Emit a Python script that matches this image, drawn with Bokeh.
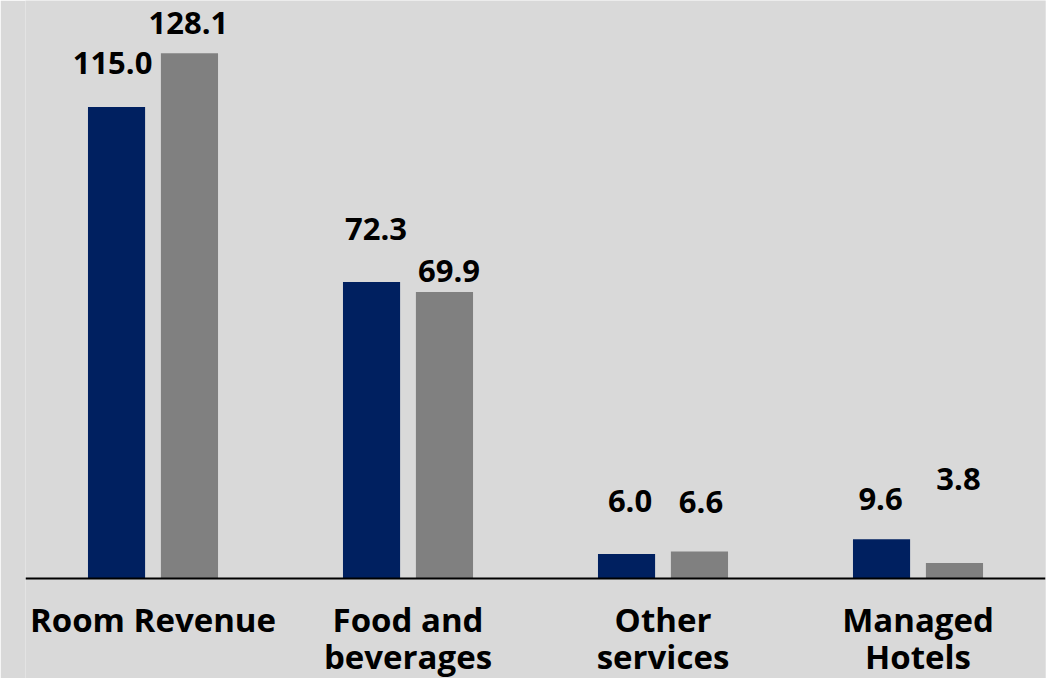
from bokeh.plotting import figure
from bokeh.models import ColumnDataSource, FactorRange, Range1d, Span
from bokeh.transform import dodge
from bokeh.core.properties import value
from bokeh.embed import file_html
from bokeh.resources import INLINE

# ---- data ----
categories = ["Room Revenue", "Food and beverages", "Other services", "Managed Hotels"]
tick_line1 = ["Room Revenue", "Food and", "Other", "Managed"]
tick_line2 = ["", "beverages", "services", "Hotels"]
series_prev = [115.0, 72.3, 6.0, 9.6]
series_curr = [128.1, 69.9, 6.6, 3.8]
label_prev = ["115.0", "72.3", "6.0", "9.6"]
label_curr = ["128.1", "69.9", "6.6", "3.8"]

# ---- label placement (screen px, styling only) ----
prev_dx = [-4, 4.5, 3.5, -1]
prev_gap = [32, 41, 41, 28]
curr_dx = [-1, 4.5, 1.5, 4]
curr_gap = [18, 9, 37, 72]
TEXT_SHIFT = 12       # renderer draws alphabetic baseline ~12px low

NAVY = "#002060"
GRAY = "#808080"
BG = "#d9d9d9"
FONT = "Open Sans"
PX_PER_UNIT = 4.1

src_prev = ColumnDataSource(dict(cat=categories, val=series_prev, lab=label_prev,
                                 dx=prev_dx, dy=[-g - TEXT_SHIFT for g in prev_gap]))
src_curr = ColumnDataSource(dict(cat=categories, val=series_curr, lab=label_curr,
                                 dx=curr_dx, dy=[-g - TEXT_SHIFT for g in curr_gap]))
src_cat = ColumnDataSource(dict(cat=categories, zero=[0] * len(categories),
                                l1=tick_line1, l2=tick_line2))

W, H = 1046, 678
BASE_Y = 578          # pixel row of the baseline
LEFT, RIGHT = 25, 1
p = figure(width=W, height=H,
           x_range=FactorRange(factors=categories, range_padding=0),
           y_range=Range1d(-(H - BASE_Y) / PX_PER_UNIT, BASE_Y / PX_PER_UNIT),
           output_backend="svg", toolbar_location=None,
           x_axis_location=None, y_axis_location=None,
           min_border_left=LEFT, min_border_right=RIGHT,
           min_border_top=0, min_border_bottom=0)

p.background_fill_color = BG
p.border_fill_color = BG
p.outline_line_color = None
p.xgrid.grid_line_color = None
p.ygrid.grid_line_color = None

off = 0.143
w = 0.224
p.vbar(x=dodge("cat", -off, range=p.x_range), top="val", bottom=0, width=w,
       source=src_prev, fill_color=NAVY, line_color=None)
p.vbar(x=dodge("cat", off, range=p.x_range), top="val", bottom=0, width=w,
       source=src_curr, fill_color=GRAY, line_color=None)

# baseline (category axis line)
p.add_layout(Span(location=0, dimension="width", line_color="#000000", line_width=2))

for src, d in ((src_prev, -off), (src_curr, off)):
    p.text(x=dodge("cat", d, range=p.x_range), y="val", text="lab", source=src,
           x_offset="dx", y_offset="dy",
           text_align="center", text_baseline="alphabetic",
           text_font=value(FONT), text_font_style="bold",
           text_font_size="31px", text_color="#000000")

# category labels (two lines)
for col, yo in (("l1", 53), ("l2", 90)):
    p.text(x="cat", y="zero", text=col, source=src_cat, y_offset=yo - TEXT_SHIFT,
           text_align="center", text_baseline="alphabetic",
           text_font=value(FONT), text_font_style="bold",
           text_font_size="33px", text_color="#000000")

open("out.html", "w").write(file_html(p, INLINE))
